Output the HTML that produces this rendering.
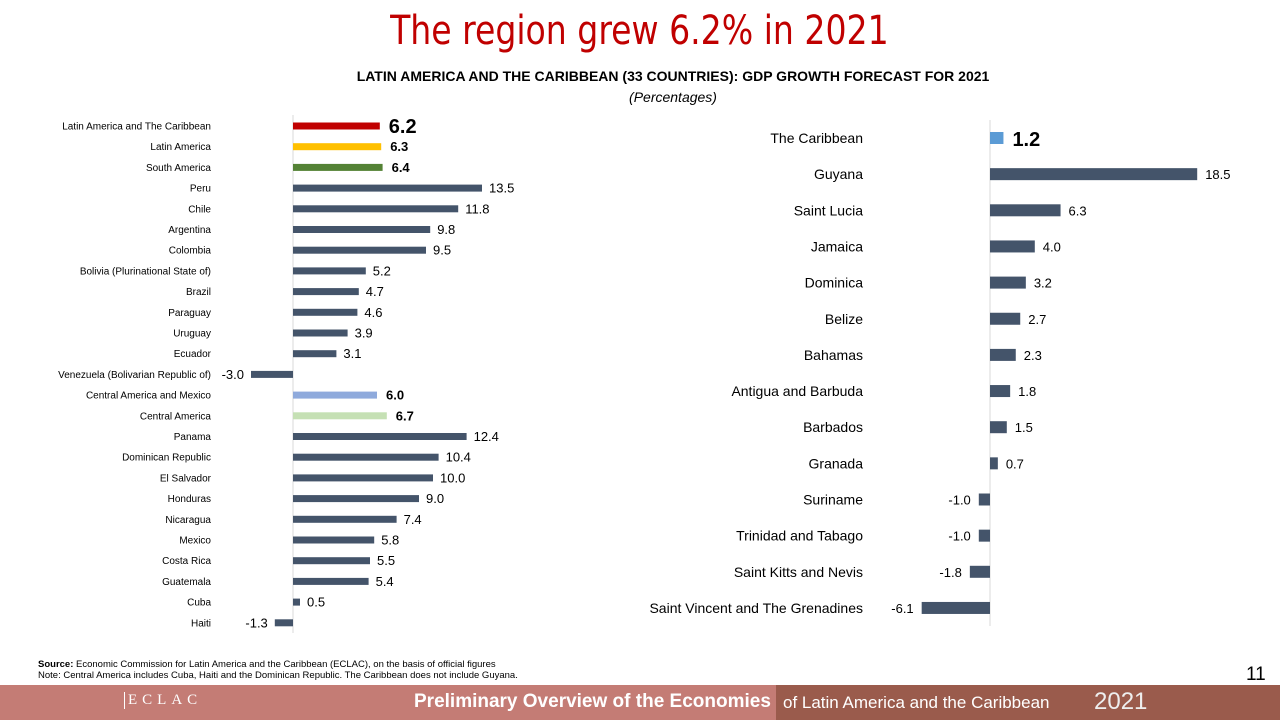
<!DOCTYPE html>
<html><head><meta charset="utf-8"><style>
body{margin:0;width:1280px;height:720px;overflow:hidden;background:#fff;font-family:"Liberation Sans",sans-serif;position:relative}
.abs{position:absolute}
</style></head><body>
<div class="abs" style="left:0;width:1280px;top:8px;text-align:center;color:#c00000;font-size:40px;font-family:'DejaVu Sans Condensed','Liberation Sans Narrow','Liberation Sans',sans-serif;transform:scaleX(0.92);transform-origin:632px 0">The region grew 6.2% in 2021</div>
<div class="abs" style="left:0;width:1346px;top:68px;text-align:center;font-weight:bold;font-size:14px">LATIN AMERICA AND THE CARIBBEAN (33 COUNTRIES): GDP GROWTH FORECAST FOR 2021</div>
<div class="abs" style="left:0;width:1346px;top:89px;text-align:center;font-style:italic;font-size:14px">(Percentages)</div>
<svg id="chart" class="abs" style="left:0;top:0" width="1280" height="720"></svg>
<div class="abs" style="left:38px;top:659px;font-size:9.5px;line-height:11px;font-family:'Liberation Sans Narrow','Liberation Sans',sans-serif"><b>Source:</b> Economic Commission for Latin America and the Caribbean (ECLAC), on the basis of official figures<br>Note: Central America includes Cuba, Haiti and the Dominican Republic. The Caribbean does not include Guyana.</div>
<div class="abs" style="left:1246px;top:664px;font-size:19px">11</div>
<div class="abs" style="left:0;top:685px;width:776px;height:35px;background:#c47c75"></div>
<div class="abs" style="left:776px;top:685px;width:504px;height:35px;background:#9a5b4c"></div>
<div class="abs" style="left:124px;top:692px;color:#fff;font-size:15px;letter-spacing:5px;font-family:'Liberation Serif',serif;border-left:1px solid #fff;padding-left:3px">ECLAC</div>
<div class="abs" style="left:414px;top:691px;color:#fff;font-size:19px;font-weight:bold;font-family:'Liberation Sans Narrow','Liberation Sans',sans-serif">Preliminary Overview of the Economies</div>
<div class="abs" style="left:783px;top:693px;color:#fff;font-size:17px;font-family:'Liberation Sans Narrow','Liberation Sans',sans-serif">of Latin America and the Caribbean</div>
<div class="abs" style="left:1094px;top:688px;color:#eee;font-size:24px;font-weight:300">2021</div>
<script>
const leftCats=["Latin America and The Caribbean","Latin America","South America","Peru","Chile","Argentina","Colombia","Bolivia (Plurinational State of)","Brazil","Paraguay","Uruguay","Ecuador","Venezuela (Bolivarian Republic of)","Central America and Mexico","Central America","Panama","Dominican Republic","El Salvador","Honduras","Nicaragua","Mexico","Costa Rica","Guatemala","Cuba","Haiti"];
const leftVals=[6.2,6.3,6.4,13.5,11.8,9.8,9.5,5.2,4.7,4.6,3.9,3.1,-3.0,6.0,6.7,12.4,10.4,10.0,9.0,7.4,5.8,5.5,5.4,0.5,-1.3];
const rightCats=["The Caribbean","Guyana","Saint Lucia","Jamaica","Dominica","Belize","Bahamas","Antigua and Barbuda","Barbados","Granada","Suriname","Trinidad and Tabago","Saint Kitts and Nevis","Saint Vincent and The Grenadines"];
const rightVals=[1.2,18.5,6.3,4.0,3.2,2.7,2.3,1.8,1.5,0.7,-1.0,-1.0,-1.8,-6.1];
const leftColors={0:"#c00000",1:"#ffc000",2:"#548235",13:"#8faadc",14:"#c5e0b4"};
const NS="http://www.w3.org/2000/svg",svg=document.getElementById("chart");
function el(t,a,txt){const e=document.createElementNS(NS,t);for(const k in a)e.setAttribute(k,a[k]);if(txt!==undefined)e.textContent=txt;svg.appendChild(e);return e;}
const lx=v=>293+v*14, ly=i=>126+i*20.7;
let ax=el("line",{x1:293,x2:293,y1:115,y2:633,stroke:"#d9d9d9"});

leftCats.forEach((c,i)=>{
 const v=leftVals[i],y=ly(i),x0=Math.min(lx(0),lx(v)),w=Math.abs(lx(v)-lx(0));
 const r=el("rect",{x:x0,y:y-3.5,width:w,height:7,fill:leftColors[i]||"#44546a"});
 
 const t=el("text",{x:211,y:y+3.5,"text-anchor":"end","font-size":10,fill:"#000"},c);
 
 const special=i<3||i==13||i==14,big=i==0;
 const vt=el("text",{x:v>=0?lx(v)+(special?9:7):lx(v)-7,y:y+(big?7:4.5),"text-anchor":v>=0?"start":"end","font-size":big?20:13,"font-weight":special?"bold":"normal"},v.toFixed(1));
 
});
const rx=v=>990+v*11.2, ry=i=>138+i*36.15;
let ax2=el("line",{x1:990,x2:990,y1:120,y2:626,stroke:"#d9d9d9"});

rightCats.forEach((c,i)=>{
 const v=rightVals[i],y=ry(i),x0=Math.min(rx(0),rx(v)),w=Math.abs(rx(v)-rx(0));
 const r=el("rect",{x:x0,y:y-6,width:w,height:12,fill:i==0?"#5b9bd5":"#44546a"});
 
 const t=el("text",{x:863,y:y+5,"text-anchor":"end","font-size":14},c);
 
 const big=i==0;
 const vt=el("text",{x:v>=0?rx(v)+(big?9:8):rx(v)-8,y:y+(big?8:5),"text-anchor":v>=0?"start":"end","font-size":big?20:13,"font-weight":big?"bold":"normal"},v.toFixed(1));
 
});
</script>
</body></html>
